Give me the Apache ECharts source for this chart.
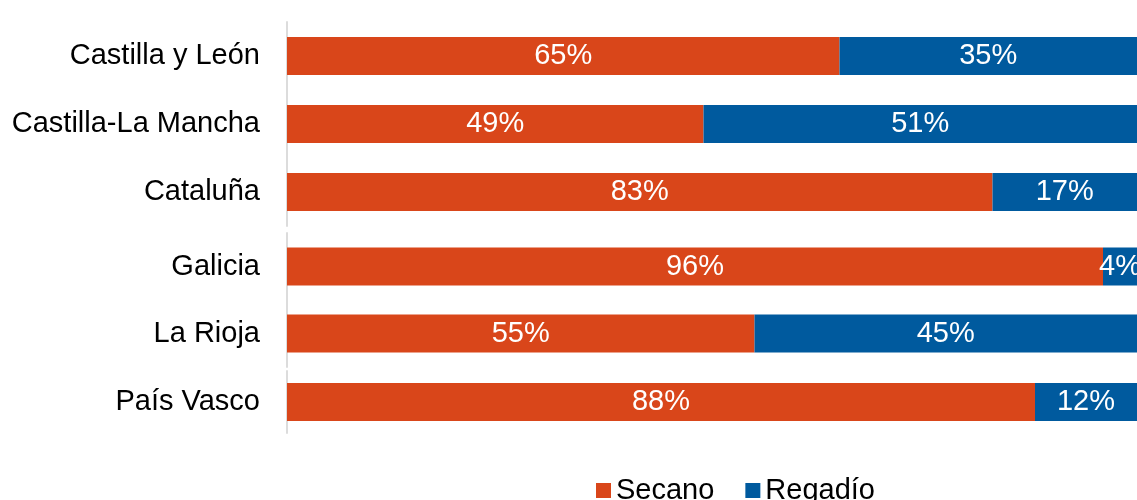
<!DOCTYPE html>
<html>
<head>
<meta charset="utf-8">
<script src="https://cdn.jsdelivr.net/npm/echarts@6/dist/echarts.min.js"></script>
<style>html,body{margin:0;padding:0;background:#fff}#c{width:1137px;height:500px}</style>
</head>
<body>
<div id="c"></div>
<script>
const categories = ['Castilla y León', 'Castilla-La Mancha', 'Cataluña', 'Galicia', 'La Rioja', 'País Vasco'];
const secano = [65, 49, 83, 96, 55, 88];
const regadio = [35, 51, 17, 4, 45, 12];
const groups = [[0, 3], [3, 5], [5, 6]];

const ORANGE = '#d9461a';
const BLUE = '#005a9e';
const FONT = 'Liberation Sans, Arial, sans-serif';

const gridPos = [
  { top: 22, height: 204 },
  { top: 233, height: 134 },
  { top: 371, height: 62 }
];

const grids = [], xAxes = [], yAxes = [], series = [];
groups.forEach((g, i) => {
  grids.push({ left: 287, right: 0, top: gridPos[i].top, height: gridPos[i].height, containLabel: false });
  xAxes.push({ gridIndex: i, type: 'value', min: 0, max: 100, show: false });
  yAxes.push({
    gridIndex: i, type: 'category', inverse: true,
    data: categories.slice(g[0], g[1]),
    axisLine: { show: true, lineStyle: { color: '#dcdcdc', width: 2 } },
    axisTick: { show: false },
    axisLabel: { margin: 27, fontSize: 29, color: '#000', fontFamily: FONT }
  });
  const lbl = { show: true, position: 'inside', color: '#fff', fontSize: 29, fontFamily: FONT, formatter: p => p.value + '%' };
  series.push({
    name: 'Secano', type: 'bar', stack: 's' + i, xAxisIndex: i, yAxisIndex: i,
    barWidth: 38, data: secano.slice(g[0], g[1]),
    itemStyle: { color: ORANGE }, label: lbl
  });
  series.push({
    name: 'Regadío', type: 'bar', stack: 's' + i, xAxisIndex: i, yAxisIndex: i,
    barWidth: 38, data: regadio.slice(g[0], g[1]),
    itemStyle: { color: BLUE }, label: lbl
  });
});

const chart = echarts.init(document.getElementById('c'));
chart.setOption({
  animation: false,
  backgroundColor: '#fff',
  legend: {
    data: ['Secano', 'Regadío'],
    left: 591, top: 471,
    icon: 'rect', itemWidth: 15, itemHeight: 15, itemGap: 31,
    textStyle: { fontSize: 29, color: '#000', fontFamily: FONT }
  },
  grid: grids,
  xAxis: xAxes,
  yAxis: yAxes,
  series: series
});
</script>
</body>
</html>
